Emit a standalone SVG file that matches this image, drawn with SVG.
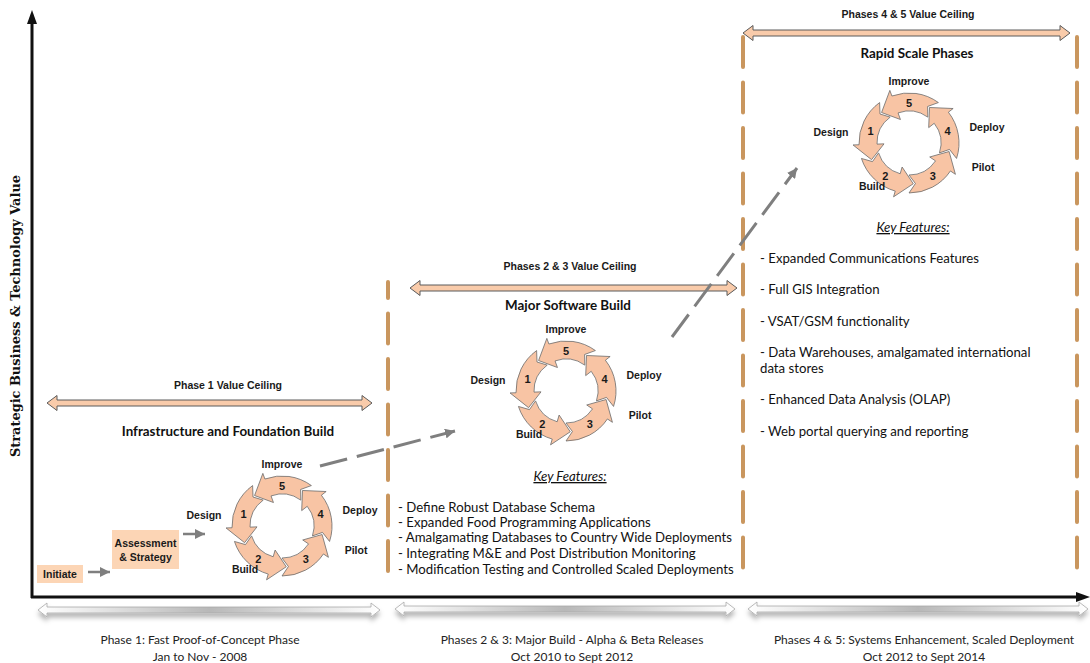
<svg xmlns="http://www.w3.org/2000/svg" xmlns:xlink="http://www.w3.org/1999/xlink" width="1090" height="663" viewBox="0 0 1090 663">
<style>
.lbl{font-family:"Liberation Sans",Arial,sans-serif;font-weight:bold;font-size:10.5px;fill:#1a1a1a;text-anchor:middle}
.num{font-family:"Liberation Sans",Arial,sans-serif;font-weight:bold;font-size:11px;fill:#1a1a1a;text-anchor:middle}
.title{font-family:Lato,"Liberation Sans",sans-serif;font-weight:bold;font-size:13.4px;fill:#111;text-anchor:middle}
.kf{font-family:Lato,"Liberation Sans",sans-serif;font-size:13.2px;fill:#111}
.kfh{font-family:Lato,"Liberation Sans",sans-serif;font-size:13.2px;fill:#111;font-style:italic;text-decoration:underline;text-anchor:middle}
.bot{font-family:Lato,"Liberation Sans",sans-serif;font-size:12px;fill:#222;text-anchor:middle}
.box{fill:#FCD5B5}
.tan{fill:none;stroke:#C9965E;stroke-width:4;stroke-linecap:round;stroke-dasharray:30 15.5}
.ceil{fill:#F9CBAA;stroke:#5a5a5a;stroke-width:1}
.bar{fill:url(#gr);stroke:#a8a8a8;stroke-width:0.8;filter:url(#sh)}
.seg{fill:#F8C4A4;stroke:#6b6b6b;stroke-width:0.8;stroke-linejoin:round}
.gdash{fill:none;stroke:#7f7f7f;stroke-width:3;stroke-dasharray:28 10}
.garr{fill:none;stroke:#7f7f7f;stroke-width:2.5}
</style>
<defs>
<linearGradient id="gr" x1="0" y1="0" x2="1" y2="0">
<stop offset="0" stop-color="#ffffff"/>
<stop offset="0.5" stop-color="#b8b8b8"/>
<stop offset="1" stop-color="#ffffff"/>
</linearGradient>
<filter id="sh" x="-5%" y="-100%" width="110%" height="300%">
<feDropShadow dx="0" dy="4" stdDeviation="2.5" flood-color="#000" flood-opacity="0.3"/>
</filter>
<marker id="ah" markerUnits="userSpaceOnUse" markerWidth="12" markerHeight="10" refX="10" refY="5" orient="auto">
<path d="M0,0 L10,5 L0,10 Z" fill="#7f7f7f"/>
</marker>
<g id="cyc">
<path class="seg" d="M29.39,-40.45 A50,50 0 0 0 -17.10,-46.99 L-19.15,-52.62 L-27.43,-30.47 L-8.55,-23.49 L-10.94,-30.07 A32,32 0 0 1 18.81,-25.89 L18.61,-36.53 Z"/>
<path class="seg" d="M47.56,15.45 A50,50 0 0 0 39.40,-30.79 L44.13,-34.48 L20.50,-35.51 L19.70,-15.39 L25.22,-19.70 A32,32 0 0 1 30.44,9.89 L40.50,6.41 Z"/>
<path class="seg" d="M0,50 A50,50 0 0 0 41.45,27.96 L46.42,31.32 L40.10,8.52 L20.73,13.98 L26.53,17.89 A32,32 0 0 1 0,32 L6.41,40.50 Z"/>
<path class="seg" d="M-47.56,15.45 A50,50 0 0 0 -13.78,48.07 L-15.43,53.83 L4.28,40.77 L-6.89,24.03 L-8.82,30.76 A32,32 0 0 1 -30.44,9.89 L-36.53,18.61 Z"/>
<path class="seg" d="M-29.39,-40.45 A50,50 0 0 0 -49.97,1.75 L-55.97,1.95 L-37.45,16.67 L-24.98,0.87 L-31.98,1.12 A32,32 0 0 1 -18.81,-25.89 L-28.99,-28.99 Z"/>
</g>
</defs>
<rect width="1090" height="663" fill="#ffffff"/>

<g id="axes">
<line x1="32" y1="598" x2="32" y2="22" stroke="#111" stroke-width="3"/>
<polygon points="32,10 27,24 37,24" fill="#111"/>
<line x1="31" y1="597" x2="1078" y2="597" stroke="#111" stroke-width="3"/>
<polygon points="1090,597 1076,592 1076,602" fill="#111"/>
<text transform="translate(20,316) rotate(-90)" font-family="'DejaVu Serif',serif" font-weight="bold" font-size="12px" fill="#111" text-anchor="middle" textLength="282" lengthAdjust="spacingAndGlyphs">Strategic Business &amp; Technology Value</text>
</g>

<g id="phase-dividers">
<line class="tan" x1="388" y1="282" x2="388" y2="578" stroke-dashoffset="14"/>
<line class="tan" x1="743" y1="37" x2="743" y2="578"/>
<line class="tan" x1="1077" y1="37" x2="1077" y2="578"/>
</g>

<g id="ceiling1">
<path class="ceil" d="M47,403 L57,395.5 L57,400 L362,400 L362,395.5 L372,403 L362,410.5 L362,406 L57,406 L57,410.5 Z"/>
<text class="lbl" x="228" y="389">Phase 1 Value Ceiling</text>
</g>
<g id="ceiling2">
<path class="ceil" d="M410,288 L420,280.5 L420,285 L727,285 L727,280.5 L737,288 L727,295.5 L727,291 L420,291 L420,295.5 Z"/>
<text class="lbl" x="570" y="270">Phases 2 &amp; 3 Value Ceiling</text>
</g>
<g id="ceiling3">
<path class="ceil" d="M743,33 L753,25.5 L753,30 L1060,30 L1060,25.5 L1070,33 L1060,40.5 L1060,36 L753,36 L753,40.5 Z"/>
<text class="lbl" x="908" y="18">Phases 4 &amp; 5 Value Ceiling</text>
</g>

<g id="titles">
<text class="title" x="228" y="436">Infrastructure and Foundation Build</text>
<text class="title" x="568" y="310">Major Software Build</text>
<text class="title" x="917" y="58">Rapid Scale Phases</text>
</g>

<g id="initiate">
<rect class="box" x="37" y="565" width="46" height="18"/>
<text class="lbl" x="60" y="578">Initiate</text>
</g>
<g id="assessment">
<rect class="box" x="112" y="530" width="67" height="39"/>
<text class="lbl" x="145.5" y="547">Assessment</text>
<text class="lbl" x="145.5" y="561">&amp; Strategy</text>
</g>

<g id="cycle1" transform="translate(282,526)">
<use href="#cyc" xlink:href="#cyc"/>
<text class="num" x="0" y="-36">5</text>
<text class="num" x="38.5" y="-8.5">4</text>
<text class="num" x="23.8" y="36.5">3</text>
<text class="num" x="-23.8" y="36.5">2</text>
<text class="num" x="-38.5" y="-8.5">1</text>
<text class="lbl" x="0" y="-58">Improve</text>
<text class="lbl" x="-78" y="-7">Design</text>
<text class="lbl" x="78" y="-12">Deploy</text>
<text class="lbl" x="74" y="28">Pilot</text>
<text class="lbl" x="-37" y="47">Build</text>
</g>
<g id="cycle2" transform="translate(566,391)">
<use href="#cyc" xlink:href="#cyc"/>
<text class="num" x="0" y="-36">5</text>
<text class="num" x="38.5" y="-8.5">4</text>
<text class="num" x="23.8" y="36.5">3</text>
<text class="num" x="-23.8" y="36.5">2</text>
<text class="num" x="-38.5" y="-8.5">1</text>
<text class="lbl" x="0" y="-58">Improve</text>
<text class="lbl" x="-78" y="-7">Design</text>
<text class="lbl" x="78" y="-12">Deploy</text>
<text class="lbl" x="74" y="28">Pilot</text>
<text class="lbl" x="-37" y="47">Build</text>
</g>
<g id="cycle3" transform="translate(909,143)">
<use href="#cyc" xlink:href="#cyc"/>
<text class="num" x="0" y="-36">5</text>
<text class="num" x="38.5" y="-8.5">4</text>
<text class="num" x="23.8" y="36.5">3</text>
<text class="num" x="-23.8" y="36.5">2</text>
<text class="num" x="-38.5" y="-8.5">1</text>
<text class="lbl" x="0" y="-58">Improve</text>
<text class="lbl" x="-78" y="-7">Design</text>
<text class="lbl" x="78" y="-12">Deploy</text>
<text class="lbl" x="74" y="28">Pilot</text>
<text class="lbl" x="-37" y="47">Build</text>
</g>

<g id="connectors">
<line class="garr" x1="88" y1="572" x2="110" y2="572" marker-end="url(#ah)"/>
<line class="garr" x1="183" y1="534" x2="205" y2="534" marker-end="url(#ah)"/>
<line class="gdash" x1="320" y1="466" x2="455" y2="431" marker-end="url(#ah)"/>
<line class="gdash" x1="672" y1="337" x2="797" y2="168" marker-end="url(#ah)"/>
</g>

<g id="features2">
<text class="kfh" x="570" y="481">Key Features:</text>
<text class="kf" x="398" y="512">- Define Robust Database Schema</text>
<text class="kf" x="398" y="527">- Expanded Food Programming Applications</text>
<text class="kf" x="398" y="542">- Amalgamating Databases to Country Wide Deployments</text>
<text class="kf" x="398" y="558">- Integrating M&amp;E and Post Distribution Monitoring</text>
<text class="kf" x="398" y="574">- Modification Testing and Controlled Scaled Deployments</text>
</g>
<g id="features3">
<text class="kfh" x="913" y="232">Key Features:</text>
<text class="kf" x="760" y="263">- Expanded Communications Features</text>
<text class="kf" x="760" y="294">- Full GIS Integration</text>
<text class="kf" x="760" y="326">- VSAT/GSM functionality</text>
<text class="kf" x="760" y="357">- Data Warehouses, amalgamated international</text>
<text class="kf" x="760" y="373">data stores</text>
<text class="kf" x="760" y="404">- Enhanced Data Analysis (OLAP)</text>
<text class="kf" x="760" y="436">- Web portal querying and reporting</text>
</g>

<g id="timeline1">
<path class="bar" d="M38,610 L47,603 L47,607 L371,607 L371,603 L380,610 L371,617 L371,613 L47,613 L47,617 Z"/>
<text class="bot" x="200" y="644">Phase 1: Fast Proof-of-Concept Phase</text>
<text class="bot" x="200" y="661">Jan to Nov - 2008</text>
</g>
<g id="timeline2">
<path class="bar" d="M395,609 L404,602 L404,606 L726,606 L726,602 L735,609 L726,616 L726,612 L404,612 L404,616 Z"/>
<text class="bot" x="572" y="644">Phases 2 &amp; 3: Major Build - Alpha &amp; Beta Releases</text>
<text class="bot" x="572" y="661">Oct 2010 to Sept 2012</text>
</g>
<g id="timeline3">
<path class="bar" d="M748,609 L757,602 L757,606 L1079,606 L1079,602 L1088,609 L1079,616 L1079,612 L757,612 L757,616 Z"/>
<text class="bot" x="924" y="644">Phases 4 &amp; 5: Systems Enhancement, Scaled Deployment</text>
<text class="bot" x="924" y="661">Oct 2012 to Sept 2014</text>
</g>
</svg>
